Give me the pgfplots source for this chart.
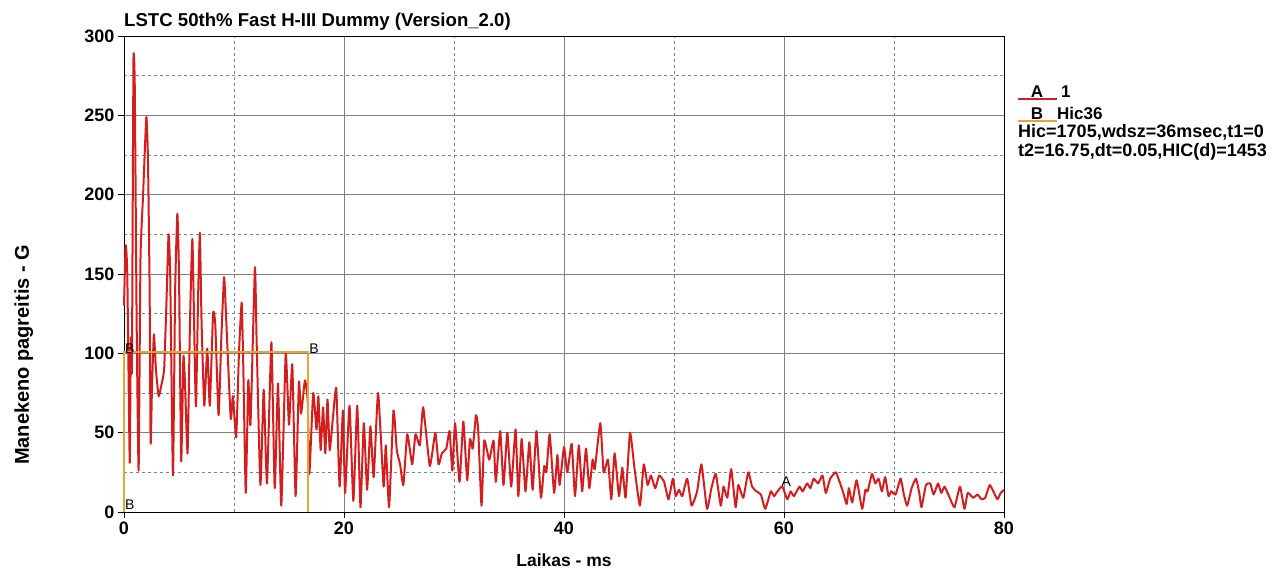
\documentclass[border=0pt]{standalone}
\usepackage{fontspec}
\setmainfont{Liberation Sans}
\usepackage{pgfplots}
\pgfplotsset{compat=1.18}
\definecolor{curvered}{HTML}{D41E1E}
\definecolor{hicorange}{HTML}{E8A432}
\newcommand{\fs}[1]{\fontsize{#1}{#1}\selectfont}
\begin{document}
\begin{tikzpicture}
\useasboundingbox (-124pt,-68pt) rectangle (1153pt,512pt);
\begin{axis}[at={(0pt,0pt)}, anchor=south west, scale only axis,
  width=880pt, height=476pt,
  xmin=0, xmax=80, ymin=0, ymax=300,
  xtick={0,20,...,80}, ytick={0,50,...,300},
  minor xtick={10,30,50,70}, minor ytick={25,75,...,275},
  grid=both,
  major grid style={draw=black!50, line width=0.6pt},
  minor grid style={draw=black!50, dashed, line width=0.5pt},
  tick pos=left, tick align=outside, major tick length=6pt, minor tick length=0pt,
  axis line style={black, line width=0.8pt},
  tick style={black, line width=0.8pt},
  /pgf/number format/assume math mode=true,
  ticklabel style={font=\bfseries\fs{18}},
  clip=false,
  title={LSTC 50th\% Fast H-III Dummy (Version\_2.0)},
  title style={at={(0,1)}, anchor=south west, font=\bfseries\fs{18.6}, inner sep=0pt, xshift=0pt, yshift=-1pt},
  xlabel={Laikas - ms},
  xlabel style={at={(axis description cs:0.5,-0.101)}, anchor=center, font=\bfseries\fs{17.5}},
  ylabel={Manekeno pagreitis - G},
  ylabel style={at={(axis description cs:-0.114,0.33)}, anchor=center, font=\bfseries\fs{20}},
]
\addplot[curvered, line width=2pt, line join=round, smooth, tension=0.28] table {
x y
0 130
0.15 168
0.3 150
0.52 31
0.62 110
0.72 90
0.86 284
0.98 268
1.15 120
1.33 26
1.5 160
1.73 199
2.03 249
2.18 222
2.33 140
2.42 43
2.55 80
2.72 112
2.9 90
3.15 73
3.4 80
3.65 90
3.85 130
4.05 175
4.2 150
4.45 23
4.65 140
4.85 188
5.0 150
5.2 32
5.4 98
5.55 80
5.78 37
6.0 120
6.22 172
6.45 90
6.55 67
6.75 140
6.9 176
7.05 120
7.3 67
7.57 103
7.8 67
8.1 125
8.3 118
8.6 61
8.85 110
9.1 148
9.3 120
9.7 59
9.9 73
10.2 47
10.45 100
10.7 132
10.85 90
11.07 12
11.3 83
11.5 55
11.9 154
12.05 110
12.4 17
12.7 77
13.0 18
13.4 107
13.7 15
14.0 81
14.3 4
14.7 100
15.0 55
15.3 93
15.6 10
15.9 82
16.1 62
16.45 83
16.7 70
16.85 24
17.2 75
17.5 52
17.67 73
17.88 39
18.1 66
18.3 37
18.5 71
18.7 39
19.0 60
19.3 78
19.6 16
19.9 64
20.1 12
20.5 67
20.85 7
21.2 67
21.5 3
21.8 56
22.1 14
22.4 54
22.7 22
23.1 75
23.6 16
23.8 42
24.1 3
24.5 64
24.8 39
25.1 30
25.4 17
25.75 49
26.2 30
26.5 49
26.9 42
27.2 66
27.8 29
28.3 50
28.6 30
28.9 37
29.3 40
29.6 51
29.85 26
30.1 56
30.5 19
30.85 57
31.2 20
31.45 46
31.7 40
32.0 61
32.2 52
32.5 4
32.75 45
33.2 33
33.6 45
33.8 19
34.2 51
34.5 17
34.85 50
35.2 16
35.6 52
35.85 10
36.15 46
36.5 13
36.85 44
37.15 14
37.5 51
37.9 9
38.2 29
38.4 25
38.7 49
39.1 12
39.4 36
39.6 17
40.0 41
40.3 25
40.7 43
41.0 10
41.35 42
41.65 13
42.0 40
42.3 15
42.6 33
42.8 27
43.3 56
43.6 25
44.0 33
44.3 8
44.6 37
45.0 10
45.3 28
45.6 9
46.0 50
46.4 28
46.9 4
47.25 30
47.6 17
47.9 23
48.3 15
48.65 23
49.1 19
49.5 8
49.9 21
50.15 10
50.45 14
50.75 10
51.2 21
51.6 4
52.1 13
52.5 30
53.0 2
53.4 15
53.8 24
54.25 4
54.5 16
54.85 9
55.2 27
55.6 3
55.85 17
56.3 9
56.75 25
57.1 16
57.5 13
57.9 11
58.3 2
58.8 13
59.1 10
59.4 13
59.85 16
60.3 8
60.6 13
60.9 10
61.4 16
61.7 13
62.1 18
62.4 15
62.7 21
63.1 18
63.5 23
63.8 12
64.2 21
64.7 25
65.0 20
65.35 13
65.7 5
65.9 15
66.2 6
66.6 20
67.1 2
67.4 14
67.6 13
68.0 24
68.3 18
68.6 21
68.9 13
69.2 22
69.5 10
69.75 13
70.15 11
70.6 21
70.9 11
71.2 4
71.6 15
72.0 21
72.3 12
72.5 3
72.9 17
73.3 18
73.6 11
74.0 18
74.3 12
74.6 16
75.0 10
75.5 3
76.0 16
76.4 2
76.7 12
77.2 9
77.6 11
77.95 8
78.3 9
78.7 17
79.1 12
79.4 8
79.7 12
80 14
};
\addplot[hicorange, line width=2pt] coordinates {(0,0) (0,101) (16.75,101) (16.75,0)};
\node[font=\fs{14}, anchor=south west, inner sep=1pt] at (axis cs:0,99) {B};
\node[font=\fs{14}, anchor=south west, inner sep=1pt] at (axis cs:0,1) {B};
\node[font=\fs{14}, anchor=south west, inner sep=1pt] at (axis cs:16.75,99) {B};
\node[font=\fs{14}, anchor=center, inner sep=1pt] at (axis cs:60.2,19) {A};
\end{axis}
% legend block
\draw[curvered, line width=1.4pt] (894pt,413pt) -- (933pt,413pt);
\node[font=\bfseries\fs{17}, anchor=base] at (913pt,414pt) {A};
\node[font=\bfseries\fs{17}, anchor=base west, inner sep=0pt] at (937pt,414pt) {1};
\draw[hicorange, line width=1.4pt] (894pt,391pt) -- (933pt,391pt);
\node[font=\bfseries\fs{17}, anchor=base] at (913pt,392pt) {B};
\node[font=\bfseries\fs{17}, anchor=base west, inner sep=0pt] at (933pt,392pt) {Hic36};
\node[font=\bfseries\fs{18}, anchor=base west, inner sep=0pt] at (894pt,374pt) {Hic=1705,wdsz=36msec,t1=0};
\node[font=\bfseries\fs{18}, anchor=base west, inner sep=0pt] at (894pt,355pt) {t2=16.75,dt=0.05,HIC(d)=1453};
\end{tikzpicture}
\end{document}
